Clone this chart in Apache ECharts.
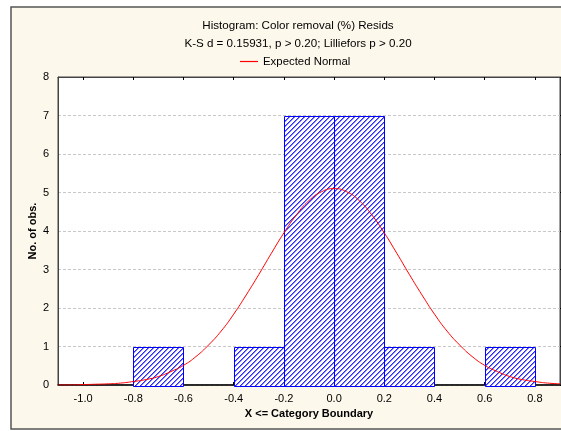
<!DOCTYPE html>
<html><head><meta charset="utf-8">
<script src="https://cdn.jsdelivr.net/npm/echarts@6/dist/echarts.min.js"></script>
<style>html,body{margin:0;padding:0;background:#fff}#c{width:561px;height:431px}</style>
</head><body><div id="c"></div>
<script>
// Histogram bins (lower/upper boundaries) and counts
const binStart = [-0.8, -0.4, -0.2, 0.0, 0.2, 0.6];
const binEnd   = [-0.6, -0.2,  0.0, 0.2, 0.4, 0.8];
const counts   = [1, 1, 7, 7, 1, 1];
// Expected normal curve
const curveX = [-1.1,-1.05,-1.0,-0.95,-0.9,-0.85,-0.8,-0.75,-0.7,-0.65,-0.6,-0.55,-0.5,-0.45,-0.4,-0.35,-0.3,-0.25,-0.2,-0.15,-0.1,-0.05,0.0,0.05,0.1,0.15,0.2,0.25,0.3,0.35,0.4,0.45,0.5,0.55,0.6,0.65,0.7,0.75,0.8,0.85,0.9];
const curveY = [0.00,0.00,0.01,0.02,0.03,0.05,0.09,0.14,0.22,0.35,0.51,0.74,1.04,1.40,1.84,2.34,2.87,3.42,3.95,4.42,4.79,5.02,5.10,5.02,4.79,4.42,3.95,3.42,2.87,2.34,1.84,1.40,1.04,0.74,0.51,0.35,0.22,0.14,0.09,0.05,0.03];
const xTicks = [-1.0,-0.8,-0.6,-0.4,-0.2,0.0,0.2,0.4,0.6,0.8];
const titleLines = ['Histogram: Color removal (%) Resids', 'K-S d = 0.15931, p > 0.20; Lilliefors p > 0.20'];
const legendName = 'Expected Normal';
const xName = 'X <= Category Boundary';
const yName = 'No. of obs.';

// hatch pattern
const pat = document.createElement('canvas');
pat.width = 5; pat.height = 5;
const pc = pat.getContext('2d');
pc.fillStyle = '#ffffff'; pc.fillRect(0,0,5,5);
for (let x=0;x<5;x++) for (let y=0;y<5;y++){
  const m = (x+y)%5;
  if (m===0){pc.fillStyle='#2a2aff';pc.fillRect(x,y,1,1);}
  else if (m===1){pc.fillStyle='#8080ff';pc.fillRect(x,y,1,1);}
}

const histData = binStart.map((s,i)=>[s, binEnd[i], counts[i]]);
const font = 'Arial, "Liberation Sans", sans-serif';
const chart = echarts.init(document.getElementById('c'), null, {renderer:'canvas'});
chart.setOption({
  animation:false,
  backgroundColor:'#ffffff',
  textStyle:{fontFamily:font},
  graphic:[{type:'rect', z:-10, shape:{x:11,y:7,width:560,height:422}, style:{fill:'#fdf8ec', stroke:'#555555', lineWidth:1.5}}],
  title:[
    {text:titleLines[0], left:293, top:15, textAlign:'center', textStyle:{fontSize:11.6, fontWeight:'normal', color:'#000', fontFamily:font}},
    {text:titleLines[1], left:293, top:33, textAlign:'center', textStyle:{fontSize:11.6, fontWeight:'normal', color:'#000', fontFamily:font}}
  ],
  legend:{data:[legendName], left:235, top:51, icon:'rect', itemWidth:18, itemHeight:1.2, itemGap:5,
    textStyle:{fontSize:11.4, color:'#000', fontFamily:font}},
  grid:{left:58, top:77, right:1, bottom:46, show:true, backgroundColor:'#ffffff', borderColor:'#444', borderWidth:1},
  xAxis:[{
    type:'value', min:-1.1, max:0.9,
    name:xName, nameLocation:'middle', nameGap:22,
    nameTextStyle:{fontWeight:'bold', fontSize:11, color:'#000', fontFamily:font},
    axisLine:{show:true, onZero:false, lineStyle:{color:'#000', width:1.5}},
    axisTick:{show:true, inside:true, length:3, customValues:xTicks, lineStyle:{color:'#000'}},
    axisLabel:{customValues:xTicks, formatter:v=>v.toFixed(1), color:'#000', fontSize:11, margin:8, fontFamily:font},
    splitLine:{show:false}
  },{
    type:'value', min:-1.1, max:0.9, position:'top',
    axisLine:{show:true, onZero:false, lineStyle:{color:'#444'}},
    axisTick:{show:true, inside:true, length:3, customValues:xTicks, lineStyle:{color:'#000'}},
    axisLabel:{show:false}, splitLine:{show:false}
  }],
  yAxis:[{
    type:'value', min:0, max:8, interval:1,
    name:yName, nameLocation:'middle', nameGap:20, nameMoveOverlap:false,
    nameTextStyle:{fontWeight:'bold', fontSize:11, color:'#000', fontFamily:font},
    axisLine:{show:true, onZero:false, lineStyle:{color:'#444'}},
    axisTick:{show:false},
    axisLabel:{color:'#000', fontSize:11, margin:9, fontFamily:font},
    splitLine:{show:true, lineStyle:{color:'#c8c8c8', type:[3,2], width:1}}
  },{
    type:'value', min:0, max:8, interval:1, position:'right',
    axisLine:{show:true, onZero:false, lineStyle:{color:'#444'}},
    axisTick:{show:true, inside:false, length:3, lineStyle:{color:'#000'}},
    axisLabel:{show:false}, splitLine:{show:false}
  }],
  series:[{
    type:'custom', xAxisIndex:0, yAxisIndex:0, z:2,
    data:histData,
    encode:{x:[0,1], y:2},
    renderItem:function(params, api){
      const p0 = api.coord([api.value(0), api.value(2)]);
      const p1 = api.coord([api.value(1), 0]);
      return {type:'rect', shape:{x:Math.round(p0[0])+0.5, y:Math.round(p0[1])+0.5, width:Math.round(p1[0]-p0[0]), height:Math.round(p1[1]-p0[1])},
        style:{fill:{image:pat, repeat:'repeat'}, stroke:'#0000ff', lineWidth:1}};
    }
  },{
    type:'line', name:legendName, xAxisIndex:0, yAxisIndex:0, z:3,
    data:curveX.map((x,i)=>[x, curveY[i]]),
    smooth:true, showSymbol:false, symbol:'none',
    lineStyle:{color:'#ff0000', width:1}, itemStyle:{color:'#ff0000'}
  }]
});
</script></body></html>
